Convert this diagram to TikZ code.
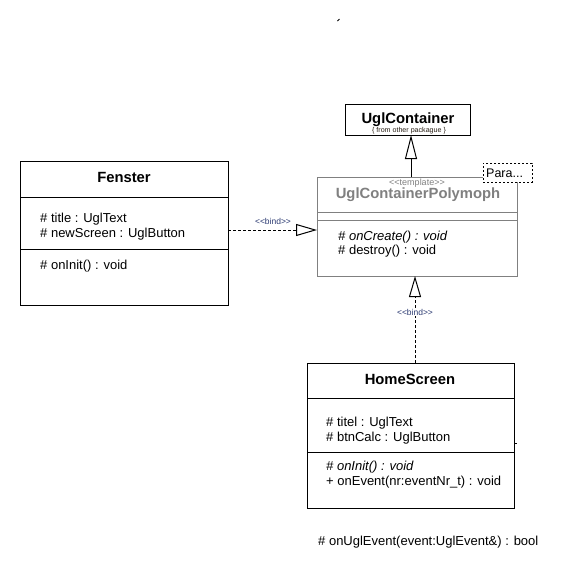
\documentclass[tikz,border=0pt]{standalone}
\usepackage{fontspec}
\setmainfont{Liberation Sans}
\usetikzlibrary{arrows.meta,calc}
\definecolor{bindc}{RGB}{45,60,115}
\definecolor{polyc}{RGB}{128,128,128}
\definecolor{pkgc}{RGB}{40,30,20}
\begin{document}
\begin{tikzpicture}[x=1pt,y=-1pt,
  box/.style={draw, line width=1pt, fill=white, inner sep=0pt, outer sep=0pt, anchor=north west},
  sep/.style={line width=1pt},
  txt/.style={anchor=base west, inner sep=0pt, font=\fontsize{13}{15}\selectfont},
  ttl/.style={anchor=base, inner sep=0pt, font=\fontsize{14.8}{17}\selectfont\bfseries},
  bindlbl/.style={anchor=base, inner sep=1pt, fill=white, text=bindc, font=\fontsize{8.5}{10}\selectfont},
  bindline/.style={line width=1pt, dash pattern=on 3pt off 2pt},
  realize/.style={-{Triangle[open, length=21pt, width=12pt, fill=white]}, line width=1pt},
  gen/.style={-{Triangle[open, length=24pt, width=12pt, fill=white]}, line width=1pt}
]
\useasboundingbox (0,0) rectangle (572,582);

% stray dot
\draw[line width=1pt] (337.5,21) -- (339.5,19);

% UglContainer
\node[box, minimum width=125pt, minimum height=31pt] (uc) at (345,104) {};
\node[ttl] (ucname) at (408,123) {UglContainer};
\node[anchor=base, inner sep=0pt, text=pkgc, font=\fontsize{7.1}{8}\selectfont] (ucpkg) at (409,132) {\{ from other packague \}};

% UglContainerPolymoph
\node[box, draw=polyc, minimum width=200pt, minimum height=99pt] (poly) at (317,177) {};
\draw[sep, polyc] (poly.west |- 0,212) -- (poly.east |- 0,212);
\draw[sep, polyc] (poly.west |- 0,220) -- (poly.east |- 0,220);
\node[anchor=base, inner sep=0pt, text=polyc, font=\fontsize{9}{10}\selectfont] (tmpl) at (417,185.5) {<\kern0pt<template>\kern0pt>};
\node[ttl, text=polyc] (polyname) at (418,198) {UglContainerPolymoph};
\node[txt] (pm1) at (338,240) {\itshape \# onCreate() : void};
\node[txt] (pm2) at (338,254) {\# destroy() : void};

% Parameter box
\node[box, dash pattern=on 2pt off 2pt, minimum width=49pt, minimum height=19pt] (para) at (483,163) {};
\node[txt, font=\fontsize{12.5}{15}\selectfont] (paratxt) at (486,177) {Para...};

% Fenster
\node[box, minimum width=208pt, minimum height=144pt] (fenster) at (20,161) {};
\draw[sep] (fenster.west |- 0,197) -- (fenster.east |- 0,197);
\draw[sep] (fenster.west |- 0,249) -- (fenster.east |- 0,249);
\node[ttl] (fname) at (124,182) {Fenster};
\node[txt] (fa1) at (40,222) {\# title : UglText};
\node[txt] (fa2) at (40,237) {\# newScreen : UglButton};
\node[txt] (fm1) at (40,269) {\# onInit() : void};

% HomeScreen
\node[box, minimum width=207pt, minimum height=145pt] (home) at (307,363) {};
\draw[sep] (home.west |- 0,398) -- (home.east |- 0,398);
\draw[sep] (home.west |- 0,452) -- (home.east |- 0,452);
\draw[sep] (home.east |- 0,443) -- ++(3,0);
\node[ttl] (hname) at (410,384) {HomeScreen};
\node[txt] (ha1) at (326,426) {\# titel : UglText};
\node[txt] (ha2) at (326,441) {\# btnCalc : UglButton};
\node[txt] (hm1) at (326,470) {\itshape \# onInit() : void};
\node[txt] (hm2) at (326,485) {+ onEvent(nr:eventNr\_t) : void};

% free text
\node[txt] (extra) at (318,545) {\# onUglEvent(event:UglEvent\&) : bool};

% connectors
\coordinate (hy) at (0,230);
\coordinate (vx) at (415,0);
\coordinate (gx) at (411,0);
\coordinate (hbase) at ($(poly.west |- hy)+(-21,0)$);
\coordinate (vbase) at (0,296 -| vx);
\draw[gen] (poly.north -| gx) -- (uc.south -| gx);
\draw[bindline] (fenster.east |- hy) -- (hbase);
\draw[realize] (hbase) -- (poly.west |- hy);
\node[bindlbl] (bl1) at (273,224) {<\kern0pt<bind>\kern0pt>};
\draw[bindline] (home.north -| vx) -- (vbase);
\draw[realize] (vbase) -- (poly.south -| vx);
\node[bindlbl] (bl2) at (415,315) {<\kern0pt<bind>\kern0pt>};
\end{tikzpicture}
\end{document}
